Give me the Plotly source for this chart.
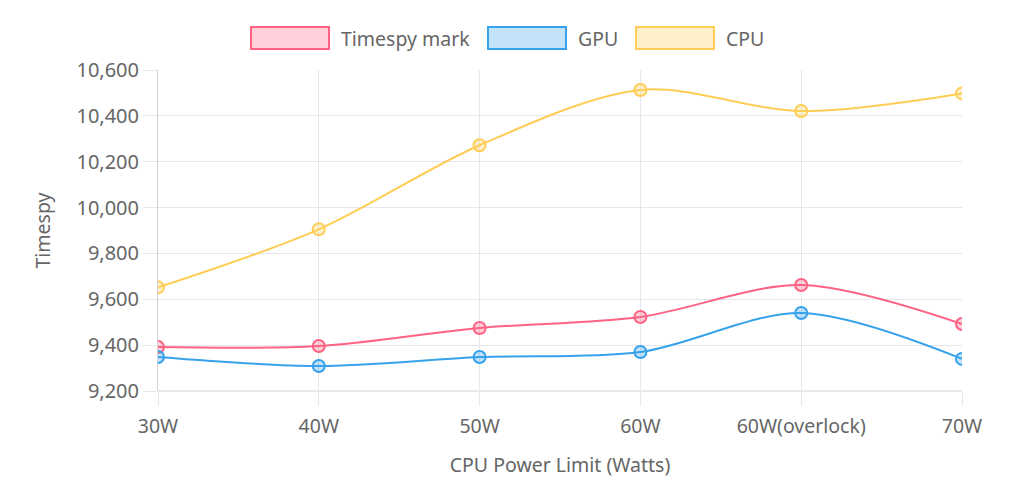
import plotly.graph_objects as go

categories = ["30W", "40W", "50W", "60W", "60W(overlock)", "70W"]
series_names = ["Timespy mark", "GPU", "CPU"]
timespy = [9392, 9396, 9475, 9523, 9662, 9492]
gpu = [9348, 9309, 9348, 9370, 9540, 9340]
cpu = [9652, 9905, 10272, 10513, 10421, 10498]
y_ticks = [9200, 9400, 9600, 9800, 10000, 10200, 10400, 10600]

line_colors = ["rgb(255,99,132)", "rgb(54,162,235)", "rgb(255,205,86)"]
fill_colors = ["rgba(255,99,132,0.3)", "rgba(54,162,235,0.3)", "rgba(255,205,86,0.3)"]

# page has an 8px body margin: figure coords = page coords - 8
OFF = 8
W, H = 1024 - OFF, 489 - OFF
L, R, T, B = 158 - OFF, 962 - OFF, 70 - OFF, 391 - OFF
FONT = "Noto Sans"
TXT = "#666666"
GRID = "#e6e6ec"
AXIS = "#d2d2d8"

fig = go.Figure()
for name, vals, lc, fc in zip(series_names, [timespy, gpu, cpu], line_colors, fill_colors):
    fig.add_trace(go.Scatter(
        x=categories, y=vals, name=name, mode="lines+markers",
        line=dict(color=lc, width=2, shape="spline", smoothing=0.9),
        marker=dict(size=12, color=fc, line=dict(color=lc, width=2)),
        showlegend=False,
    ))

def px_to_paper_x(px):
    return (px - OFF - L) / (R - L)

def px_to_paper_y(py):
    return (B - (py - OFF)) / (B - T)

# custom legend (Chart.js style boxes), positions in page pixels
box_lefts = [251, 488, 636]
shapes = []
annotations = []
for name, lc, fc, bx in zip(series_names, line_colors, fill_colors, box_lefts):
    shapes.append(dict(type="rect", xref="paper", yref="paper",
                       x0=px_to_paper_x(bx), x1=px_to_paper_x(bx + 78),
                       y0=px_to_paper_y(49), y1=px_to_paper_y(27),
                       line=dict(color=lc, width=2), fillcolor=fc))
    annotations.append(dict(text=name, xref="paper", yref="paper",
                            x=px_to_paper_x(bx + 88), y=px_to_paper_y(38),
                            xanchor="left", yanchor="middle", showarrow=False,
                            font=dict(family=FONT, size=19.5, color=TXT)))

fig.update_layout(
    width=W, height=H,
    margin=dict(l=L, r=W - R, t=T, b=H - B, pad=0),
    paper_bgcolor="white", plot_bgcolor="white",
    font=dict(family=FONT, size=19, color=TXT),
    shapes=shapes, annotations=annotations,
    showlegend=False,
)
fig.update_xaxes(
    type="category", range=[0, len(categories) - 1],
    showgrid=True, gridcolor=GRID, gridwidth=1,
    ticks="outside", ticklen=14, tickcolor=GRID,
    ticklabelstandoff=4,
    showline=False, zeroline=False,
    tickfont=dict(family=FONT, size=19.5, color=TXT),
    title=dict(text="CPU Power Limit (Watts)", font=dict(family=FONT, size=19.5, color=TXT), standoff=19),
)
fig.update_yaxes(
    range=[9200, 10600], tickvals=y_ticks,
    ticktext=[f"{v:,}" for v in y_ticks],
    showgrid=True, gridcolor=GRID, gridwidth=1,
    ticks="outside", ticklen=14, tickcolor=GRID,
    showline=True, linecolor=AXIS, linewidth=1, mirror=False,
    zeroline=False,
    tickfont=dict(family=FONT, size=20, color=TXT),
    title=dict(text="Timespy", font=dict(family=FONT, size=19.5, color=TXT), standoff=20),
)
# bottom line
fig.add_shape(type="line", xref="paper", yref="paper", x0=0, x1=1, y0=0, y1=0,
              line=dict(color=AXIS, width=1), layer="below")

fig.write_html("out.html")
